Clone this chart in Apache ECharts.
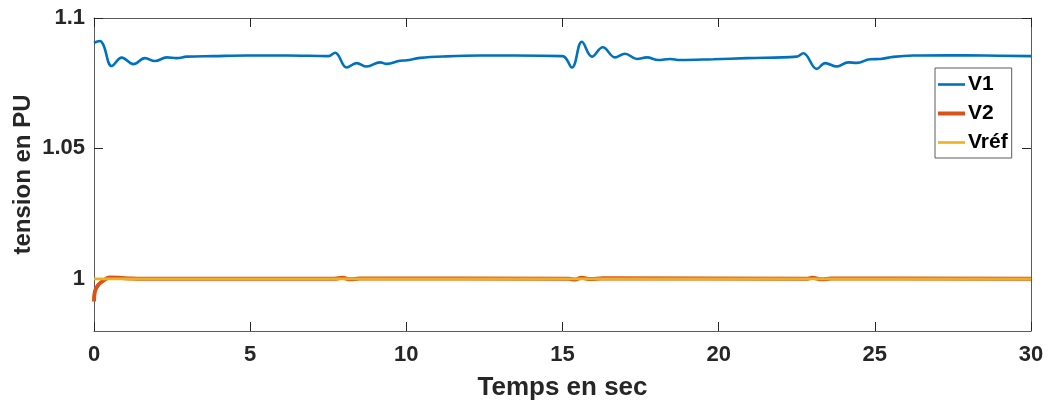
<!DOCTYPE html>
<html>
<head>
<meta charset="utf-8">
<script src="https://cdn.jsdelivr.net/npm/echarts@6/dist/echarts.min.js"></script>
<style>
  html, body { margin: 0; padding: 0; background: #fff; }
  #chart { width: 1051px; height: 401px; }
</style>
</head>
<body>
<div id="chart"></div>
<script>
// Bus voltages (per unit) over simulation time (s)
const timeV1 = [0, 0.19, 0.3, 0.57, 0.89, 1.26, 1.63, 1.95, 2.33, 2.65, 2.97, 3.82, 4.89, 6.2, 7.5, 7.72, 8.09, 8.41, 8.73, 9.16, 9.37, 9.8, 10.01, 10.44, 11.29, 12.36, 13.43, 15.0, 15.3, 15.62, 15.94, 16.29, 16.68, 17.0, 17.38, 17.7, 18.07, 18.44, 18.76, 19.83, 20.9, 22.5, 22.71, 23.14, 23.41, 23.78, 24.15, 24.42, 24.85, 25.17, 25.59, 26.23, 27.3, 28.5, 30];
const valuesV1 = [1.0905, 1.0912, 1.0897, 1.0816, 1.0848, 1.0823, 1.0846, 1.0835, 1.0849, 1.0846, 1.0852, 1.0854, 1.0856, 1.0856, 1.0854, 1.0867, 1.0810, 1.0827, 1.0814, 1.0830, 1.0824, 1.0836, 1.0838, 1.0847, 1.0853, 1.0856, 1.0856, 1.0854, 1.0810, 1.0909, 1.0852, 1.0888, 1.0849, 1.0863, 1.0843, 1.0849, 1.0839, 1.0843, 1.0839, 1.0842, 1.0846, 1.0852, 1.0865, 1.0805, 1.0827, 1.0814, 1.0830, 1.0828, 1.0842, 1.0843, 1.0851, 1.0856, 1.0857, 1.0856, 1.0854];

const timeV2 = [0, 0.03, 0.14, 0.3, 0.5, 0.8, 1.2, 1.6, 2.0, 7.7, 7.95, 8.2, 8.5, 15.2, 15.4, 15.6, 15.9, 16.3, 22.8, 23.0, 23.3, 23.6, 30];
const valuesV2 = [0.9913, 0.9952, 0.9977, 0.9993, 1.0005, 1.0004, 1.0001, 1.0000, 1.0000, 1.0000, 1.0004, 0.9998, 1.0001, 1.0000, 0.9997, 1.0004, 0.9999, 1.0002, 1.0000, 1.0004, 0.9998, 1.0001, 1.0000];

const timeRef = [0, 30];
const valuesRef = [1.0, 1.0];

const xTicks = [0, 5, 10, 15, 20, 25, 30];
const yTicks = [1, 1.05, 1.1];

const seriesNames = ['V1', 'V2', 'Vréf'];
const xTitle = 'Temps en sec';
const yTitle = 'tension en PU';

const pair = (t, v) => t.map((x, i) => [x, v[i]]);

const AX = '#262626';
const BOX = '#5c5c5c';
const FONT = 'Liberation Sans, Arial, sans-serif';

// legend key: a horizontal stroke inside a fixed 27x20 frame
const lineIcon = h => {
  const y0 = (10 - h / 2).toFixed(2), y1 = (10 + h / 2).toFixed(2);
  return `path://M0,0M27,20M0,${y0}H27V${y1}H0Z`;
};

const axisCommon = {
  axisLine: { show: true, onZero: false, lineStyle: { color: BOX, width: 1 } },
  splitLine: { show: false }
};
const tickStyle = vals => ({ show: true, inside: true, length: 9, customValues: vals, lineStyle: { color: AX, width: 1 } });

const chart = echarts.init(document.getElementById('chart'), null, { renderer: 'canvas' });

chart.setOption({
  backgroundColor: '#ffffff',
  animation: false,
  grid: { left: 94, right: 20, top: 18, bottom: 70, containLabel: false, outerBoundsMode: 'none' },
  legend: {
    data: [
      { name: seriesNames[0], icon: lineIcon(2.6) },
      { name: seriesNames[1], icon: lineIcon(4) },
      { name: seriesNames[2], icon: lineIcon(2.6) }
    ],
    orient: 'vertical',
    left: 935,
    top: 68,
    padding: [6, 4, 5, 3],
    itemGap: 8,
    itemWidth: 27,
    itemHeight: 20,
    borderColor: BOX,
    borderWidth: 1,
    backgroundColor: '#fff',
    textStyle: { fontFamily: FONT, fontWeight: 'bold', fontSize: 21, color: '#000', padding: [0, 0, 0, -2] }
  },
  xAxis: [
    Object.assign({}, axisCommon, {
      type: 'value', position: 'bottom', min: 0, max: 30, interval: 5,
      axisLabel: { show: true, margin: 13, fontFamily: FONT, fontWeight: 'bold', fontSize: 22, color: AX,
        customValues: xTicks },
      axisTick: tickStyle(xTicks),
      name: xTitle, nameLocation: 'middle', nameGap: 44, nameMoveOverlap: false,
      nameTextStyle: { fontFamily: FONT, fontWeight: 'bold', fontSize: 26, color: AX }
    }),
    Object.assign({}, axisCommon, {
      type: 'value', position: 'top', min: 0, max: 30, interval: 5,
      axisLabel: { show: false },
      axisTick: tickStyle(xTicks)
    })
  ],
  yAxis: [
    Object.assign({}, axisCommon, {
      type: 'value', position: 'left', min: 0.98, max: 1.1, interval: 0.01,
      axisLabel: { show: true, margin: 9, fontFamily: FONT, fontWeight: 'bold', fontSize: 22, color: AX,
        customValues: yTicks, formatter: v => String(+(+v).toFixed(2)) },
      axisTick: tickStyle(yTicks),
      name: yTitle, nameLocation: 'middle', nameGap: 59, nameMoveOverlap: false,
      nameTextStyle: { fontFamily: FONT, fontWeight: 'bold', fontSize: 24, color: AX }
    }),
    Object.assign({}, axisCommon, {
      type: 'value', position: 'right', min: 0.98, max: 1.1, interval: 0.01,
      axisLabel: { show: false },
      axisTick: tickStyle(yTicks)
    })
  ],
  series: [
    {
      name: seriesNames[0], type: 'line', data: pair(timeV1, valuesV1),
      showSymbol: false, symbol: 'none', smooth: 0.4,
      color: '#0072BD', lineStyle: { width: 2.6, color: '#0072BD' }
    },
    {
      name: seriesNames[1], type: 'line', data: pair(timeV2, valuesV2),
      showSymbol: false, symbol: 'none', smooth: 0.4,
      color: '#D95319', lineStyle: { width: 4, color: '#D95319' }
    },
    {
      name: seriesNames[2], type: 'line', data: pair(timeRef, valuesRef),
      showSymbol: false, symbol: 'none',
      color: '#EDB120', lineStyle: { width: 2.6, color: '#EDB120' }
    }
  ]
});
</script>
</body>
</html>
